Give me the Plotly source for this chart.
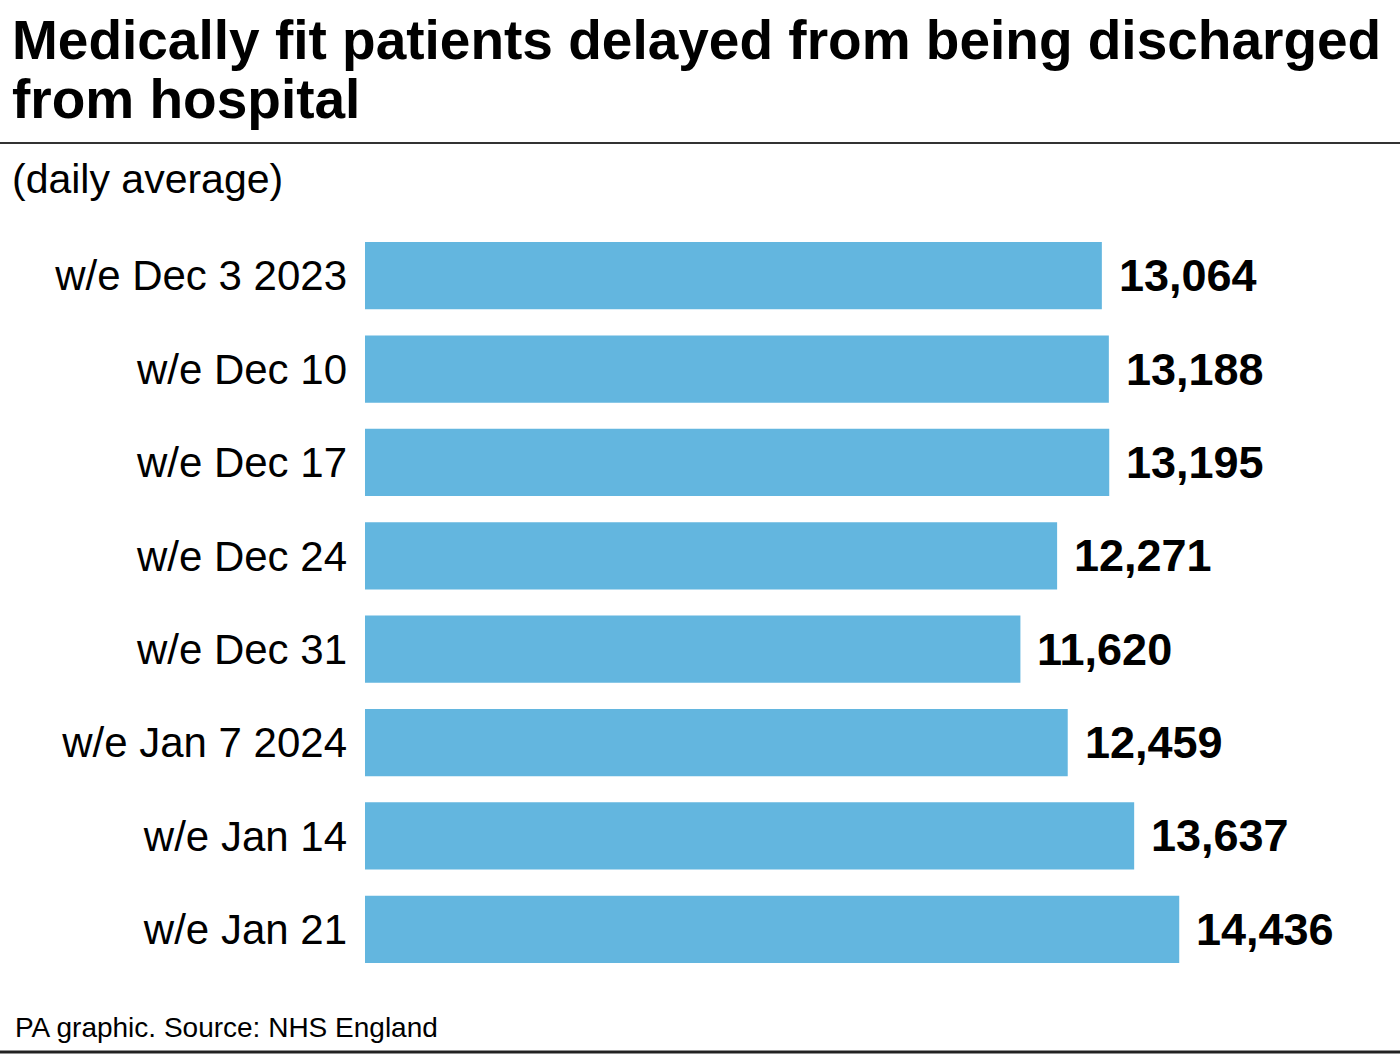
import plotly.graph_objects as go

categories = ["w/e Dec 3 2023", "w/e Dec 10", "w/e Dec 17", "w/e Dec 24",
              "w/e Dec 31", "w/e Jan 7 2024", "w/e Jan 14", "w/e Jan 21"]
values = [13064, 13188, 13195, 12271, 11620, 12459, 13637, 14436]

W, H = 1400, 1060
FONT = "Liberation Sans, Arial, sans-serif"
BAR = "#63b6df"

def py(px):
    return 1 - px / H

fig = go.Figure()
fig.add_trace(go.Bar(
    x=values, y=categories, orientation="h",
    marker=dict(color=BAR, line=dict(width=0)),
    hoverinfo="skip",
))

annotations = []
for c, v in zip(categories, values):
    annotations.append(dict(
        x=v, y=c, xref="x", yref="y", text=f"{v:,}", showarrow=False,
        xanchor="left", yanchor="middle", xshift=15,
        font=dict(family=FONT, size=45, color="#000000", weight=700),
    ))

annotations += [
    dict(x=10 / W, y=py(40), xref="paper", yref="paper", xanchor="left", yanchor="middle",
         text="Medically fit patients delayed from being discharged", showarrow=False,
         font=dict(family=FONT, size=55, color="#000000", weight=700)),
    dict(x=10 / W, y=py(99), xref="paper", yref="paper", xanchor="left", yanchor="middle",
         text="from hospital", showarrow=False,
         font=dict(family=FONT, size=55, color="#000000", weight=700)),
    dict(x=10 / W, y=py(179), xref="paper", yref="paper", xanchor="left", yanchor="middle",
         text="(daily average)", showarrow=False,
         font=dict(family=FONT, size=41, color="#000000")),
    dict(x=13 / W, y=py(1027), xref="paper", yref="paper", xanchor="left", yanchor="middle",
         text="PA graphic. Source: NHS England", showarrow=False,
         font=dict(family=FONT, size=28, color="#000000")),
]

shapes = [
    dict(type="line", xref="paper", yref="paper", x0=0, x1=1, y0=py(143), y1=py(143),
         line=dict(color="#333333", width=2)),
    dict(type="line", xref="paper", yref="paper", x0=0, x1=1, y0=py(1052), y1=py(1052),
         line=dict(color="#222222", width=3)),
]

fig.update_layout(
    width=W, height=H,
    margin=dict(l=0, r=0, t=0, b=0),
    paper_bgcolor="white", plot_bgcolor="white",
    showlegend=False,
    bargap=0.28,
    annotations=annotations,
    shapes=shapes,
    xaxis=dict(domain=[365 / W, 1], range=[0, 18350], showgrid=False, zeroline=False,
               showticklabels=False, showline=False, fixedrange=True),
    yaxis=dict(domain=[py(976), py(229)], autorange="reversed", showgrid=False,
               zeroline=False, showline=False, ticks="", ticklabelstandoff=17,
               tickfont=dict(family=FONT, size=42, color="#000000"), automargin=False,
               fixedrange=True),
)

fig.write_html("out.html", config={"displayModeBar": False})

with open("out.html", "r", encoding="utf-8") as f:
    html = f.read()
html = html.replace("<head>", "<head><style>html,body{margin:0;padding:0;overflow:hidden;}</style>", 1)
with open("out.html", "w", encoding="utf-8") as f:
    f.write(html)
